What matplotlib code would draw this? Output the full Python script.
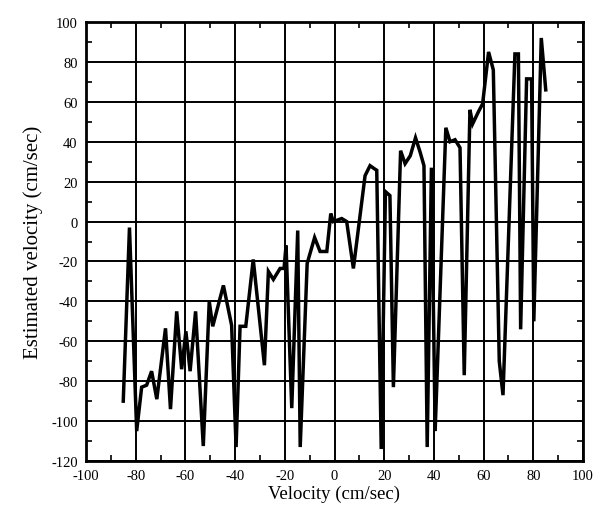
import matplotlib
matplotlib.use("Agg")
import matplotlib.pyplot as plt
from matplotlib.ticker import MultipleLocator

# true velocity (cm/sec) vs estimated velocity (cm/sec)
true_vel = [-85, -82.5, -79.6, -77.6, -75.6, -73.6, -71.5, -68, -66, -63.5,
            -61.5, -59.8, -58.1, -55.9, -52.8, -50.4, -49, -44.7, -41.4, -39.6,
            -38, -35.7, -32.7, -28.2, -26.6, -24.6, -21.9, -20.3, -19.5, -17.2,
            -14.8, -13.8, -11, -8, -5.8, -3.1, -1.5, -0.5, 2.9, 4.9,
            7.6, 12.3, 14.3, 16, 17, 18.8, 20.5, 22.3, 23.7, 26.6,
            28.4, 30.5, 32.6, 34.4, 36, 37.3, 39, 40.5, 44.8, 46.5,
            48.5, 50.5, 52.2, 54.5, 55.6, 57.9, 59.6, 62, 63.9, 66.3,
            67.8, 72.6, 74, 74.9, 77.3, 79.3, 80.2, 83.2, 85]
est_vel = [-90, -3, -105, -83, -82, -75, -89, -53.5, -94, -45,
           -74, -55, -75, -45, -112.5, -40, -52.5, -32, -52, -113,
           -52.5, -52.5, -19, -72, -25, -29, -23.5, -23.5, -12, -93.5,
           -4.5, -113, -21, -8, -15, -15, 4, 0, 1.5, 0,
           -23.5, 23, 28, 26.5, 25.7, -114, 15, 13, -83, 35.5,
           29, 33, 42, 35, 28, -113, 27, -105, 47, 40,
           41, 37, -77, 56, 49, 55, 59, 85, 76, -70,
           -87, 84, 84, -54, 71.5, 71.5, -50, 92, 66]

plt.rcParams['font.family'] = ['Liberation Serif', 'DejaVu Serif']
plt.rcParams['axes.unicode_minus'] = False

fig = plt.figure(figsize=(6, 5.1), dpi=100)
ax = fig.add_axes([0.1433, 0.0941, 0.8284, 0.8608])

ax.plot(true_vel, est_vel, color='black', linewidth=2.5, solid_joinstyle='miter')

ax.set_xlim(-100, 100)
ax.set_ylim(-120, 100)
ax.xaxis.set_major_locator(MultipleLocator(20))
ax.yaxis.set_major_locator(MultipleLocator(20))
ax.xaxis.set_minor_locator(MultipleLocator(10))
ax.yaxis.set_minor_locator(MultipleLocator(10))
ax.grid(True, which='major', color='black', linewidth=1.4)
ax.tick_params(which='major', length=0, labelsize=10.5, pad=6)
ax.tick_params(which='minor', direction='in', length=4, width=1.2,
               top=True, right=True)
for s in ax.spines.values():
    s.set_linewidth(2)

ax.set_xlabel("Velocity (cm/sec)", fontsize=13.5, labelpad=2)
ax.set_ylabel("Estimated velocity (cm/sec)", fontsize=15, labelpad=6)

fig.savefig("out.png", dpi=100)
